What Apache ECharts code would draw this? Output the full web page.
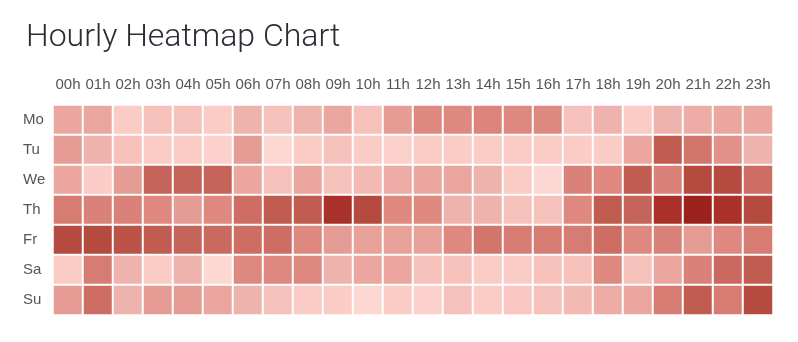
<!DOCTYPE html>
<html><head><meta charset="utf-8">
<script src="https://cdn.jsdelivr.net/npm/echarts@6/dist/echarts.min.js"></script>
<style>html,body{margin:0;padding:0;background:#fff}#c{width:798px;height:342px}</style>
</head><body><div id="c"></div>
<script>
const hours = ['00h','01h','02h','03h','04h','05h','06h','07h','08h','09h','10h','11h','12h','13h','14h','15h','16h','17h','18h','19h','20h','21h','22h','23h'];
const days = ['Mo','Tu','We','Th','Fr','Sa','Su'];
const mo = [5,5,2,3,3,2,4,3,4,5,3,6,7,7,7.3,7,7,3,4,2,4,4.5,5,5];
const tu = [6,4,3,2,2,1.5,6,1,2,3,2,1.5,2,2,2,2,2,2,2,5,11,8.5,6.5,4];
const we = [5,2,6,10,10,10,5,3,5,3,3.5,4.5,5,5,4,2,1,7.5,7,11,7.5,12,12,9];
const th = [8,7.5,7.5,7,6,7,9,11,11,13,12,7,7,4,4,3,3,7,11,10,13,14,13,12];
const fr = [12,12,11.5,11,10,9.5,9,9,7,6,5.5,5.5,5.5,7,8.5,8,8,8,9,7,7.5,6,7,8];
const sa = [2,8,4,2,4,1,7,7,7,4,5,5,3,3,2,2,3,3,7,3,5,7.5,9.5,11];
const su = [6,9,4,6,6,5,4,3,2,2,1,2,1.5,3,2,2.5,3,3.5,4.5,5,8,11,8,12];
const rows = [mo,tu,we,th,fr,sa,su];
const palette = ['#fdd7d2','#fbcbc6','#f6c1bb','#efb3ad','#eba79f','#e59c95','#de8880','#d67c73','#cd6d63','#c4645a','#c05c50','#b54a3f','#a9312a','#9b211c'];

const data = [];
rows.forEach((r, d) => r.forEach((v, h) => data.push([h, d, v])));

const chart = echarts.init(document.getElementById('c'), null, {renderer: 'canvas'});
chart.setOption({
  animation: false,
  title: {
    text: 'Hourly Heatmap Chart', left: 21, top: 17,
    textStyle: {fontFamily: 'Roboto, "Liberation Sans", sans-serif', fontWeight: 300, fontSize: 32, color: '#2a2d34'}
  },
  grid: {left: 53, right: 25, top: 105, bottom: 27},
  xAxis: {
    type: 'category', data: hours, position: 'top',
    axisLine: {show: false}, axisTick: {show: false}, splitLine: {show: false},
    axisLabel: {color: '#555', fontSize: 15, margin: 13, interval: 0, fontFamily: '"Liberation Sans", Arial, sans-serif'}
  },
  yAxis: {
    type: 'category', data: days, inverse: true,
    axisLine: {show: false}, axisTick: {show: false}, splitLine: {show: false},
    axisLabel: {color: '#555', fontSize: 15, margin: 30, align: 'left', fontFamily: '"Liberation Sans", Arial, sans-serif'}
  },
  visualMap: {
    show: false, type: 'continuous', min: 1, max: 14, dimension: 2,
    inRange: {color: palette}
  },
  series: [{
    type: 'heatmap', data: data,
    itemStyle: {borderColor: '#fff', borderWidth: 2},
    emphasis: {disabled: true}
  }]
});
</script></body></html>
